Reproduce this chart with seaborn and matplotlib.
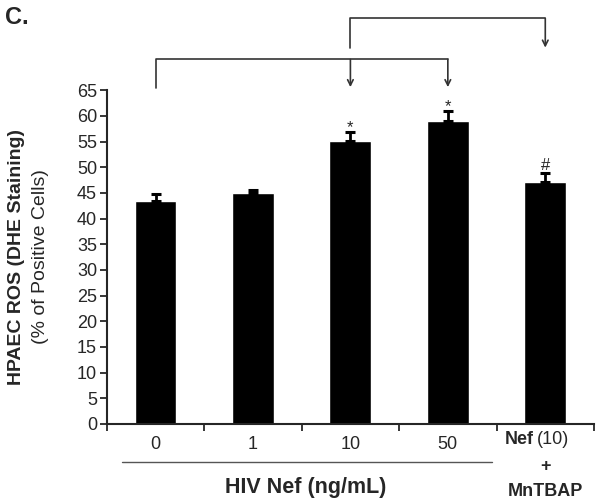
import numpy as np
import pandas as pd
import seaborn as sns
import matplotlib.pyplot as plt

# values
groups = ["0", "1", "10", "50", "Nef+MnTBAP"]
ros = [43.4, 44.9, 55.1, 59.1, 47.1]
sem = [1.3, 0.6, 1.7, 1.8, 1.7]
marks = ["", "", "*", "*", "#"]
tick_text = ["0", "1", "10", "50"]

sns.set_style("ticks")
plt.rcParams['font.family'] = ['Liberation Sans', 'DejaVu Sans']

df = pd.DataFrame({"group": groups, "ros": ros})

fig = plt.figure(figsize=(6, 5.04), dpi=100)
ax = fig.add_axes([0.178, 0.159, 0.812, 0.662])

sns.barplot(data=df, x="group", y="ros", color="black", width=0.43,
            errorbar=None, saturation=1, ax=ax)
ax.errorbar(range(len(groups)), ros, yerr=[np.zeros(len(sem)), sem], fmt="none",
            ecolor="black", elinewidth=2, capsize=3.5, capthick=2.2)

# significance marks (star glyph sits high, so less gap)
gap = {"*": 0.1, "#": 0.7}
for i, (v, e, m) in enumerate(zip(ros, sem, marks)):
    if m:
        ax.text(i, v + e + gap[m], m, ha="center", va="baseline", fontsize=12)

ax.set_xlim(-0.5, 4.5)
ax.set_ylim(0, 65)
ax.set_yticks(range(0, 66, 5))
ax.tick_params(axis="y", labelsize=13, length=5, width=1.3, direction="out", pad=2)
ax.set_xticks(range(4), tick_text)
ax.set_xticks(np.arange(-0.5, 4.6, 1), minor=True)
ax.tick_params(axis="x", which="major", length=0, labelsize=13, pad=9)
ax.tick_params(axis="x", which="minor", length=5, width=1.3, direction="out")
for s in ["left", "bottom"]:
    ax.spines[s].set_linewidth(1.5)
sns.despine(ax=ax)
ax.set_xlabel("")
ax.set_ylabel("")

# custom label for the last group
tr = ax.get_xaxis_transform()
ax.text(3.88, -0.048, "Nef", transform=tr, ha="right", va="center",
        fontsize=13, fontweight="bold")
ax.text(3.91, -0.048, "(10)", transform=tr, ha="left", va="center", fontsize=13)
ax.text(4, -0.129, "+", transform=tr, ha="center", va="center",
        fontsize=13, fontweight="bold")
ax.text(4, -0.204, "MnTBAP", transform=tr, ha="center", va="center",
        fontsize=13, fontweight="bold")

# group line and label
ax.plot([-0.345, 3.45], [-0.114, -0.114], transform=tr, color="#555555",
        lw=1, clip_on=False)
ax.text(1.54, -0.192, "HIV Nef (ng/mL)", transform=tr, ha="center", va="center",
        fontsize=15.5, fontweight="bold")

# y label (bold line + regular line)
fig.text(0.028, 0.49, "HPAEC ROS (DHE Staining)", rotation=90, ha="center",
         va="center", fontsize=14, fontweight="bold")
fig.text(0.068, 0.49, "(% of Positive Cells)", rotation=90, ha="center",
         va="center", fontsize=14)

# comparison brackets
lc = "#333333"
ax.plot([0, 0, 3], [65.4, 71.0, 71.0], color=lc, lw=1.2, clip_on=False)
ax.plot([2, 2, 4], [73.2, 79.0, 79.0], color=lc, lw=1.2, clip_on=False)
for x0, ytop, ybot in [(2, 71.0, 65.6), (3, 71.0, 65.6), (4, 79.0, 73.3)]:
    ax.annotate("", xy=(x0, ybot), xytext=(x0, ytop),
                arrowprops=dict(arrowstyle="->", color=lc, lw=1.2,
                                shrinkA=0, shrinkB=0), annotation_clip=False)

fig.text(0.008, 0.965, "C.", fontsize=17, fontweight="bold", va="center")

fig.savefig("out.png", dpi=100)
